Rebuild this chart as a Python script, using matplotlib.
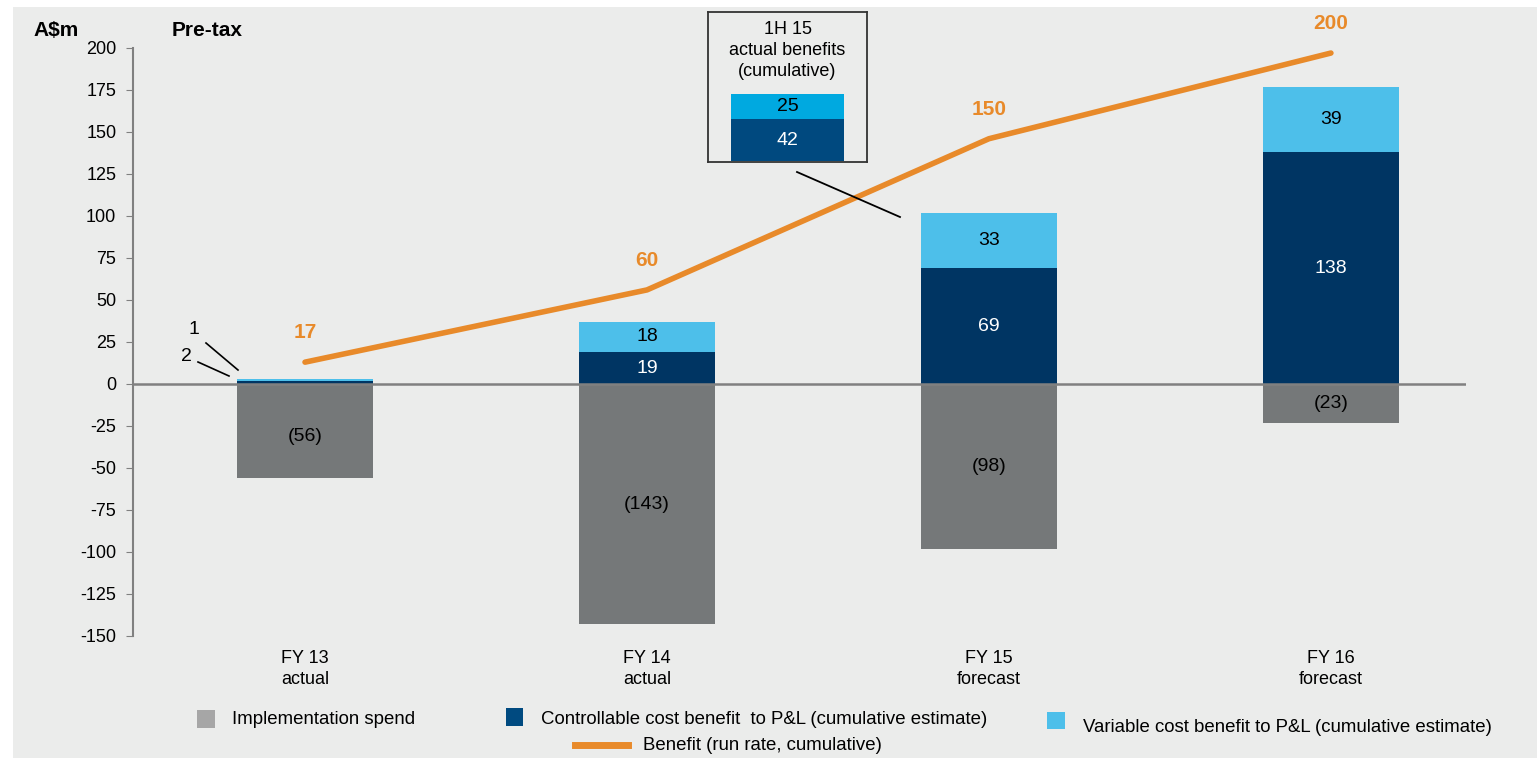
import numpy as np
import matplotlib
matplotlib.use("Agg")
import matplotlib.pyplot as plt
from matplotlib.patches import Rectangle
from matplotlib.lines import Line2D

plt.rcParams['font.family'] = ['Liberation Sans', 'DejaVu Sans']
plt.rcParams['axes.unicode_minus'] = False

# data
categories = ["FY 13\nactual", "FY 14\nactual", "FY 15\nforecast", "FY 16\nforecast"]
implementation = [-56, -143, -98, -23]
controllable = [2, 19, 69, 138]
variable = [1, 18, 33, 39]
impl_labels = ["(56)", "(143)", "(98)", "(23)"]
benefit_line = [13, 56, 146, 197]
benefit_labels = ["17", "60", "150", "200"]
inset_controllable = 42
inset_variable = 25

GREY = "#757879"
NAVY = "#003563"
LIGHT = "#4dbfea"
ORANGE = "#e88a2a"
BG = "#ebeceb"

W, H = 1537, 758
fig = plt.figure(figsize=(W / 100, H / 100), dpi=100)
fig.patch.set_facecolor("white")
# grey panel behind everything
fig.add_artist(Rectangle((13 / W, 0), 1 - 13 / W, (H - 7) / H, transform=fig.transFigure,
                         facecolor=BG, edgecolor="none", zorder=-10))


def px(x, y):
    # pixel position (from top-left) to figure fraction
    return x / W, 1 - y / H


ax = fig.add_axes([133 / W, (H - 636) / H, 1333 / W, 588 / H])
ax.set_facecolor("none")
x = np.arange(len(categories))
bw = 0.398

ax.bar(x, implementation, bw, color=GREY, zorder=2)
ax.bar(x, controllable, bw, color=NAVY, zorder=2)
ax.bar(x, variable, bw, bottom=controllable, color=LIGHT, zorder=2)
ax.axhline(0, color="#808080", lw=1.8, zorder=3)

for i in range(len(x)):
    if i > 0:
        ax.text(x[i], controllable[i] / 2, str(controllable[i]), ha="center", va="center",
                color="white", fontsize=14, zorder=4)
        ax.text(x[i], controllable[i] + variable[i] / 2, str(variable[i]), ha="center",
                va="center", color="black", fontsize=14, zorder=4)
    ax.text(x[i], implementation[i] / 2 if i > 0 else -31, impl_labels[i], ha="center",
            va="center", color="black", fontsize=14, zorder=4)

ax.plot(x, benefit_line, color=ORANGE, lw=4, solid_capstyle="round", zorder=5)
for i in range(len(x)):
    ax.annotate(benefit_labels[i], (x[i], benefit_line[i]), xytext=(0, 21),
                textcoords="offset points", ha="center", va="center", color=ORANGE,
                fontsize=15, fontweight="bold")

ax.set_xlim(-0.503, 3.395)
ax.set_ylim(-150, 200)
ax.set_yticks(np.arange(-150, 201, 25))
ax.set_xticks(x)
ax.set_xticklabels(categories, fontsize=13, linespacing=1.3)
ax.tick_params(axis="x", length=0, pad=10)
ax.tick_params(axis="y", labelsize=13, length=5, color="#808080", pad=7)
for s in ["top", "right", "bottom"]:
    ax.spines[s].set_visible(False)
ax.spines["left"].set_color("#808080")
ax.spines["left"].set_linewidth(1.5)

fig.text(*px(33, 31), "A$m", fontsize=15, fontweight="bold", va="center")
fig.text(*px(172, 31), "Pre-tax", fontsize=15, fontweight="bold", va="center")

# small labels for FY13 benefits
fig.text(*px(194, 330), "1", fontsize=14, ha="center", va="center")
fig.text(*px(186, 357), "2", fontsize=14, ha="center", va="center")
fig.add_artist(Line2D(*zip(px(206, 343), px(238, 370)), color="black", lw=1.2,
                      transform=fig.transFigure))
fig.add_artist(Line2D(*zip(px(198, 362), px(229, 376)), color="black", lw=1.2,
                      transform=fig.transFigure))

# inset box for 1H 15
ins = fig.add_axes([708 / W, (H - 162) / H, 159 / W, 150 / H])
ins.set_facecolor("none")
ins.bar([0], [inset_controllable], 0.71, color="#00497f")
ins.bar([0], [inset_variable], 0.71, bottom=[inset_controllable], color="#00a9e0")
ins.text(0, inset_controllable / 2, str(inset_controllable), ha="center", va="center",
         color="white", fontsize=14)
ins.text(0, inset_controllable + inset_variable / 2, str(inset_variable), ha="center",
         va="center", color="black", fontsize=14)
ins.text(0, 111, "1H 15\nactual benefits\n(cumulative)", ha="center", va="center",
         fontsize=13, linespacing=1.3)
ins.set_xlim(-0.5, 0.5)
ins.set_ylim(-1, 150)
ins.set_xticks([])
ins.set_yticks([])
for s in ins.spines.values():
    s.set_color("#333333")
    s.set_linewidth(1.3)
fig.add_artist(Line2D(*zip(px(797, 172), px(900, 217)), color="black", lw=1.3,
                      transform=fig.transFigure))

# legend
fig.add_artist(Rectangle(px(197, 728), 18 / W, 18 / H, transform=fig.transFigure,
                         facecolor="#a6a6a6", edgecolor="none"))
fig.text(*px(232, 719), "Implementation spend", fontsize=13.4, va="center")
fig.add_artist(Rectangle(px(506, 726), 17 / W, 18 / H, transform=fig.transFigure,
                         facecolor="#004a80", edgecolor="none"))
fig.text(*px(541, 719), "Controllable cost benefit  to P&L (cumulative estimate)",
         fontsize=13.4, va="center")
fig.add_artist(Rectangle(px(1047, 729), 18 / W, 17 / H, transform=fig.transFigure,
                         facecolor=LIGHT, edgecolor="none"))
fig.text(*px(1083, 727), "Variable cost benefit to P&L (cumulative estimate)",
         fontsize=13.4, va="center")
fig.add_artist(Line2D(*zip(px(575, 745), px(628, 745)), color=ORANGE, lw=5,
                      transform=fig.transFigure))
fig.text(*px(643, 745), "Benefit (run rate, cumulative)", fontsize=13.4, va="center")

fig.savefig("out.png", dpi=100, facecolor=fig.get_facecolor())
